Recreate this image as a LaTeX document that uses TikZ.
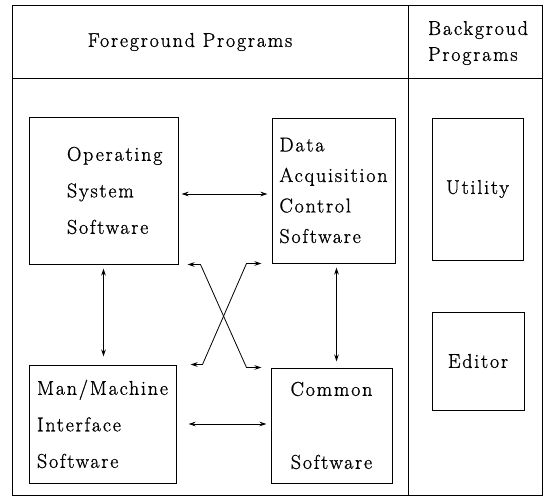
\documentclass[tikz,border=0pt]{standalone}
\usepackage{fontspec}
\setmainfont{Latin Modern Roman}[LetterSpace=9, FakeBold=1]
\usepackage{tikz}
\usetikzlibrary{arrows.meta}

\newcommand{\progfont}{\fontsize{20}{36.5}\selectfont}
\newcommand{\progfontdense}{\fontsize{20}{30.5}\selectfont}

\begin{document}
\begin{tikzpicture}[x=1pt, y=-1pt,
	block/.style={rectangle,
		draw = black,
		text = black,
		fill = white,
		line width = 1pt,
		inner sep = 0pt,
		font = \progfont},
	link/.style={line width = 0.8pt, {Stealth[length=7pt,width=4.5pt]}-{Stealth[length=7pt,width=4.5pt]}}]

	\useasboundingbox (0,0) rectangle (544,498);

	% table frame
	\draw[line width = 1pt] (12,5) rectangle (542,495);
	\draw[line width = 1pt] (12,78) -- (542,78);
	\draw[line width = 1pt] (408,5) -- (408,495);

	\node[font = \progfont] (fg) at (190,42) {Foreground Programs};
	\node[font = \fontsize{20}{26}\selectfont,
		align = left] (bg) at (478,43) {Backgroud\\Programs};

	% foreground programs
	\node[block,
		align = left,
		text width = 73pt,
		minimum width = 149pt,
		minimum height = 147pt] (os) at (103.5,190.5) {Operating\\System\\Software};

	\node[block,
		align = left,
		font = \progfontdense,
		minimum width = 123pt,
		minimum height = 145pt] (daq) at (333.5,190.5) {Data\\Acquisition\\Control\\Software};

	\node[block,
		align = left,
		minimum width = 147pt,
		minimum height = 118pt] (mmi) at (102.5,424) {Man/Machine\\Interface\\Software};

	\node[block,
		align = center,
		minimum width = 121pt,
		minimum height = 115pt] (com) at (331.5,425.5) {Common\\[36.5pt]Software};

	% background programs
	\node[block,
		align = center,
		minimum width = 91pt,
		minimum height = 142pt] (util) at (477.5,189) {Utility};

	\node[block,
		align = center,
		minimum width = 92pt,
		minimum height = 98pt] (edit) at (478,361) {Editor};

	\draw[link] ([shift={(3pt,-3.5pt)}]os.east) -- ([shift={(-4pt,-3.5pt)}]daq.west);
	\draw[link] ([yshift=-4pt]os.south) -- ([yshift=8pt]os.south |- mmi.north);
	\draw[link] ([shift={(3pt,-4pt)}]daq.south) -- ([shift={(3pt,6pt)}]daq.south |- com.north);
	\draw[link] ([xshift=12pt]mmi.east) -- ([xshift=-4pt]mmi.east -| com.west);

	\draw[link] ([xshift=9pt]os.south east) -- ++(13pt,0)
		-- ([xshift=-24pt]com.north west) -- ([xshift=-9pt]com.north west);
	\draw[link] ([xshift=14pt]mmi.north east) -- ++(12pt,0)
		-- ([xshift=-25pt]daq.south west) -- ([xshift=-10pt]daq.south west);

\end{tikzpicture}
\end{document}
